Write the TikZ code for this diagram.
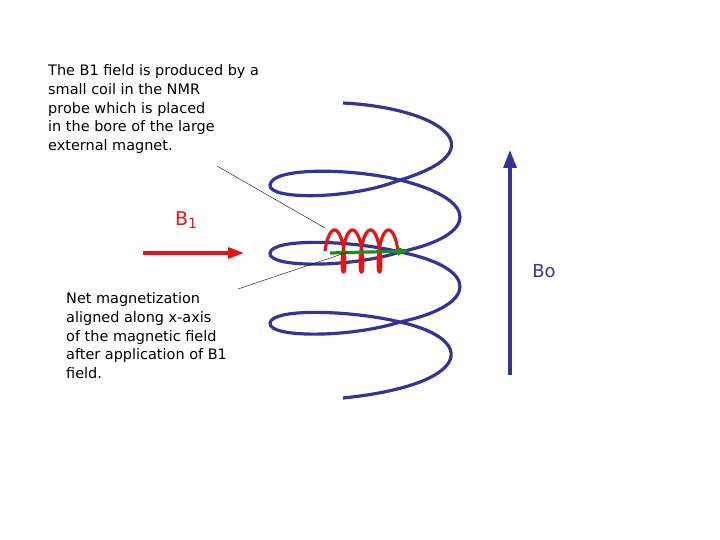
\documentclass[tikz,border=0pt]{standalone}
\usepackage{fontspec}
\setmainfont{DejaVu Sans}
\usetikzlibrary{arrows.meta}
\definecolor{coilblue}{RGB}{51,51,153}
\definecolor{probered}{RGB}{230,20,20}
\definecolor{magngreen}{RGB}{30,140,30}
\begin{document}
\begin{tikzpicture}[x=1bp,y=-1bp,>=latex,
  note/.style={align=left,anchor=north west,font=\fontsize{14.5}{19}\selectfont,inner sep=0pt}]
\useasboundingbox (0,0) rectangle (720,540);
% large magnet coil
\draw[coilblue,line width=3.2pt] (343,103) .. controls (440,108) and (500,150) .. (400,180)
  .. controls (350,200) and (268,200) .. (270,185) .. controls (272,167) and (350,168) .. (400,180)
  .. controls (480,200) and (480,235) .. (400,252)
  .. controls (350,268) and (268,268) .. (270,253) .. controls (272,238) and (350,240) .. (400,252)
  .. controls (480,268) and (480,305) .. (400,322)
  .. controls (350,338) and (268,338) .. (270,323) .. controls (272,308) and (350,310) .. (400,322)
  .. controls (480,340) and (470,385) .. (343,398);
% probe coil
\draw[probered,line width=3.2pt,smooth,samples=200,domain=-90:1170]
  plot ({334.5+0.05*\x+5*sin(\x)},{251-21*cos(\x)});
\draw[magngreen,line width=3.2pt,->] (330,253) -- (410,251);
% field arrows
\coordinate (b1s) at (143,253);
\coordinate (b1e) at (244,253);
\draw[probered,line width=3.2pt,-{Triangle[length=16pt,width=11pt]}] (b1s) -- (b1e);
\node[probered,font=\fontsize{19}{19}\selectfont] (b1) at (186,220) {B\raisebox{-0.35ex}{\fontsize{14}{14}\selectfont 1}};
\coordinate (b0s) at (510,375);
\coordinate (b0e) at (510,150);
\draw[coilblue,line width=3.2pt,-{Triangle[length=18pt,width=13pt]}] (b0s) -- (b0e);
\node[coilblue,font=\fontsize{18}{18}\selectfont] (b0) at (544,271) {Bo};
% notes
\node[note] (probe) at (48,64) {The B1 field is produced by a\\small coil in the NMR\\probe which is placed\\in the bore of the large\\external magnet.};
\node[note] (magn) at (66,292) {Net magnetization\\aligned along x-axis\\of the magnetic field\\after application of B1\\field.};
\coordinate (p1) at (217,166);
\coordinate (p2) at (325,228);
\coordinate (m1) at (238,289);
\coordinate (m2) at (348,252);
\draw[thin] (p1) -- (p2);
\draw[thin] (m1) -- (m2);
\end{tikzpicture}
\end{document}
